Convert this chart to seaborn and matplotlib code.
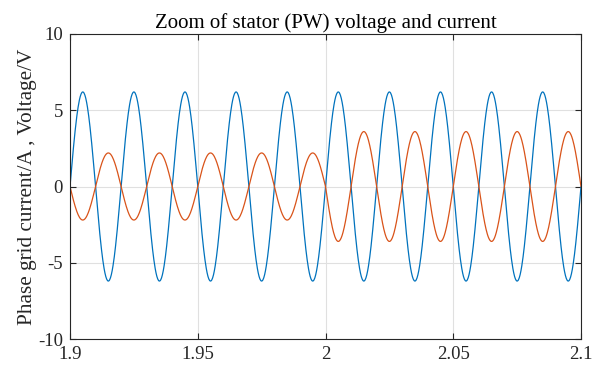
import numpy as np
import pandas as pd
import matplotlib
matplotlib.use("Agg")
import matplotlib.pyplot as plt
import seaborn as sns

# ---- data ----
t_start, t_end = 1.9, 2.1
freq_hz = 50
# signed half-cycle peak values (each half-cycle lasts 0.01 s)
voltage_half_peaks = [6.2, -6.2] * 10
current_half_peaks = [-2.2, 2.2] * 5 + [-3.6, 3.6] * 5
series_names = ["Voltage", "Current"]
series_colors = ["#0072BD", "#D95319"]
x_ticks = [1.9, 1.95, 2.0, 2.05, 2.1]
x_tick_labels = ["1.9", "1.95", "2", "2.05", "2.1"]
y_ticks = [-10, -5, 0, 5, 10]
y_tick_labels = ["-10", "-5", "0", "5", "10"]
title = "Zoom of stator (PW) voltage and current"
ylabel = "Phase grid current/A , Voltage/V"


def build_wave(half_peaks):
    half = 1.0 / (2 * freq_hz)
    ts, vs = [], []
    for i, pk in enumerate(half_peaks):
        tt = np.linspace(0, half, 60, endpoint=(i == len(half_peaks) - 1))
        ts.append(t_start + i * half + tt)
        vs.append(pk * np.sin(np.pi * tt / half))
    return np.concatenate(ts), np.concatenate(vs)


frames = []
for name, hp in zip(series_names, [voltage_half_peaks, current_half_peaks]):
    t, v = build_wave(hp)
    frames.append(pd.DataFrame({"t": t, "v": v, "series": name}))
df = pd.concat(frames, ignore_index=True)

sns.set_theme(style="white")
plt.rcParams["font.family"] = ["Liberation Serif", "DejaVu Serif"]
plt.rcParams["mathtext.fontset"] = "stix"

fig = plt.figure(figsize=(5.93, 3.69), dpi=100)
ax = fig.add_axes([70 / 593, 30 / 369, 511 / 593, 305 / 369])

sns.lineplot(data=df, x="t", y="v", hue="series", palette=series_colors,
             hue_order=series_names, linewidth=0.9, legend=False, ax=ax,
             estimator=None, sort=False)

ax.set_xlim(t_start, t_end)
ax.set_ylim(-10, 10)
ax.set_xticks(x_ticks)
ax.set_xticklabels(x_tick_labels)
ax.set_yticks(y_ticks)
ax.set_yticklabels(y_tick_labels)
ax.grid(True, color="#e0e0e0", linewidth=0.8)
ax.set_axisbelow(True)
for s in ax.spines.values():
    s.set_color("#262626")
    s.set_linewidth(0.8)
    s.set_visible(True)
ax.tick_params(direction="in", length=4, width=0.8, color="#262626",
               labelsize=13.5, labelcolor="#262626", top=True, right=True,
               bottom=True, left=True, pad=5)
ax.set_xlabel("")
ax.set_ylabel(ylabel, fontsize=15.3, color="#262626", labelpad=1)
ax.set_title(title, fontsize=15, color="#000000", pad=4)

fig.savefig("out.png", dpi=100)
